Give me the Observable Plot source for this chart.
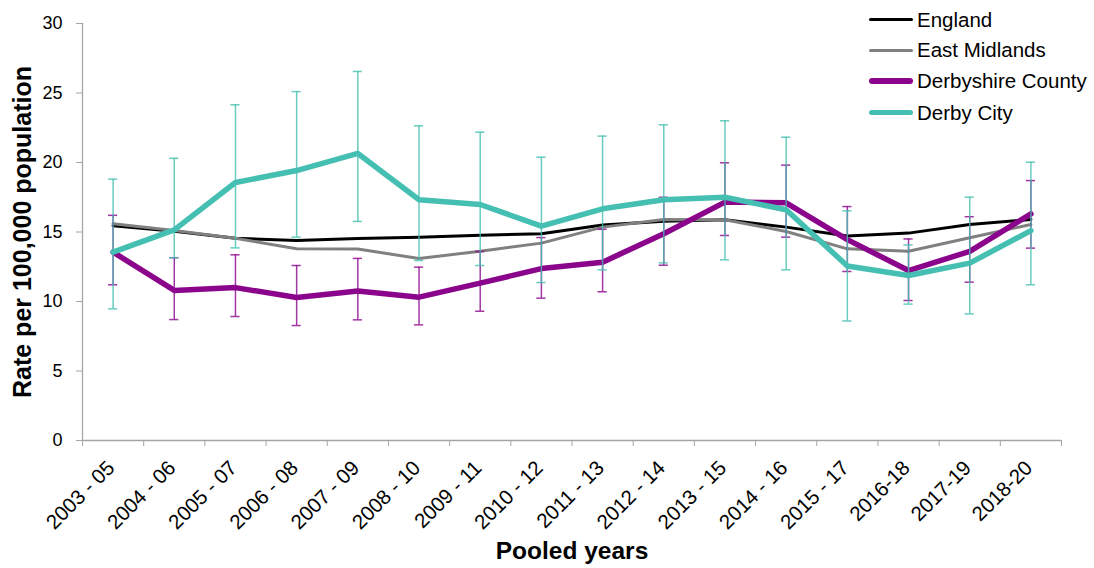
<!DOCTYPE html>
<html><head><meta charset="utf-8">
<script src="https://cdn.jsdelivr.net/npm/d3@7"></script>
<script src="https://cdn.jsdelivr.net/npm/@observablehq/plot@0.6"></script>
<style>
body{margin:0;background:#fff;font-family:"Liberation Sans",Arial,sans-serif;}
#wrap{position:relative;width:1094px;height:568px;overflow:hidden;}
#legend{position:absolute;left:869px;top:0;width:225px;height:130px;}
.row{position:absolute;left:0;display:flex;align-items:center;height:30px;white-space:nowrap;font-size:20.5px;color:#000;}
.sw{width:44px;margin-right:4px;border-radius:3px;}
g[aria-label^="x-axis"] line, g[aria-label^="x-axis"] path, g[aria-label^="y-axis"] line, g[aria-label^="y-axis"] path {stroke:#a6a6a6;}
</style></head><body><div id="wrap"><div id="chart"></div><div id="legend"></div></div>
<script>
const categories = ["2003 - 05","2004 - 06","2005 - 07","2006 - 08","2007 - 09","2008 - 10","2009 - 11","2010 - 12","2011 - 13","2012 - 14","2013 - 15","2014 - 16","2015 - 17","2016-18","2017-19","2018-20"];
const england       = [15.45,15.05,14.55,14.39,14.53,14.63,14.77,14.87,15.51,15.78,15.88,15.35,14.72,14.92,15.54,15.90];
const eastMidlands  = [15.60,15.10,14.55,13.79,13.78,13.09,13.62,14.20,15.35,15.90,15.88,15.04,13.79,13.62,14.58,15.54];
const derbyshire    = [13.55,10.80,11.00,10.29,10.75,10.31,11.32,12.37,12.83,14.87,17.15,17.10,14.45,12.23,13.60,16.30];
const derbyshireLo  = [11.20, 8.70, 8.92, 8.27, 8.68, 8.32, 9.30,10.24,10.70,12.61,14.75,14.63,12.16,10.07,11.39,13.84];
const derbyshireHi  = [16.20,13.15,13.36,12.59,13.10,12.47,13.60,14.60,15.20,17.50,19.98,19.81,16.83,14.50,16.10,18.70];
const derbyCity     = [13.55,15.15,18.56,19.42,20.65,17.32,16.98,15.42,16.67,17.32,17.50,16.60,12.56,11.87,12.76,15.10];
const derbyCityLo   = [ 9.47,13.15,13.86,14.63,15.76,12.95,12.59,11.36,12.28,12.78,13.00,12.28, 8.60, 9.81, 9.11,11.20];
const derbyCityHi   = [18.80,20.30,24.15,25.10,26.55,22.64,22.18,20.38,21.90,22.71,23.00,21.82,16.52,14.07,17.51,20.02];
const yTicks = [0,5,10,15,20,25,30];
const seriesNames = ["England","East Midlands","Derbyshire County","Derby City"];

const colors = {"England":"#000000","East Midlands":"#808080","Derbyshire County":"#8b058c","Derby City":"#45bfb1"};
const widths = {"England":3,"East Midlands":3,"Derbyshire County":5.5,"Derby City":5.5};

const idx = categories.map((_, i) => i);
const boundaries = d3.range(-0.5, categories.length, 1);
const capHalf = 0.075;

function lineMark(name, values) {
  return Plot.line(idx, {x: i => i, y: i => values[i], stroke: colors[name], strokeWidth: widths[name], strokeLinejoin: "round", strokeLinecap: "round"});
}
function errMarks(name, lo, hi) {
  const c = colors[name];
  return [
    Plot.ruleX(idx, {x: i => i, y1: i => lo[i], y2: i => hi[i], stroke: c, strokeWidth: 1.5, strokeOpacity: 0.8}),
    Plot.ruleY(idx, {y: i => lo[i], x1: i => i - capHalf, x2: i => i + capHalf, stroke: c, strokeWidth: 1.5, strokeOpacity: 0.8}),
    Plot.ruleY(idx, {y: i => hi[i], x1: i => i - capHalf, x2: i => i + capHalf, stroke: c, strokeWidth: 1.5, strokeOpacity: 0.8})
  ];
}

const chart = Plot.plot({
  width: 1094, height: 568,
  marginLeft: 82, marginRight: 33, marginTop: 23, marginBottom: 128,
  style: {fontFamily: "Liberation Sans, Arial, sans-serif", fontSize: "18px", color: "#000", background: "white"},
  x: {domain: [-0.5, categories.length - 0.5], ticks: boundaries, tickFormat: () => "", tickSize: 6, label: null},
  y: {domain: [0, 30], ticks: yTicks, tickSize: 6, tickPadding: 14, label: null},
  marks: [
    Plot.ruleY([0], {stroke: "#a6a6a6", strokeWidth: 1.3}),
    Plot.ruleX([-0.5], {stroke: "#a6a6a6", strokeWidth: 1.3}),
    lineMark("England", england),
    lineMark("East Midlands", eastMidlands),
    ...errMarks("Derbyshire County", derbyshireLo, derbyshireHi),
    lineMark("Derbyshire County", derbyshire),
    ...errMarks("Derby City", derbyCityLo, derbyCityHi),
    lineMark("Derby City", derbyCity),
    Plot.text(idx, {x: i => i, y: () => 0, text: i => categories[i], rotate: -45, textAnchor: "end", dx: -2, dy: 24, fontSize: 20.5, fill: "#000"}),
    Plot.text(["Rate per 100,000 population"], {text: d => d, frameAnchor: "left", textAnchor: "middle", rotate: -90, dx: -60, fontSize: 25, fontWeight: "bold", fill: "#000"}),
    Plot.text(["Pooled years"], {text: d => d, frameAnchor: "bottom", textAnchor: "middle", dy: 118, fontSize: 24.5, fontWeight: "bold", fill: "#000"})
  ]
});
document.getElementById("chart").appendChild(chart);

const legendCenters = [19.5, 50, 81, 112.5];
const legend = document.getElementById("legend");
seriesNames.forEach((name, k) => {
  const row = document.createElement("div");
  row.className = "row";
  row.style.top = (legendCenters[k] - 15) + "px";
  const sw = document.createElement("div");
  sw.className = "sw";
  sw.style.height = widths[name] + "px";
  sw.style.background = colors[name];
  const label = document.createElement("span");
  label.textContent = name;
  row.appendChild(sw); row.appendChild(label);
  legend.appendChild(row);
});
</script></body></html>
